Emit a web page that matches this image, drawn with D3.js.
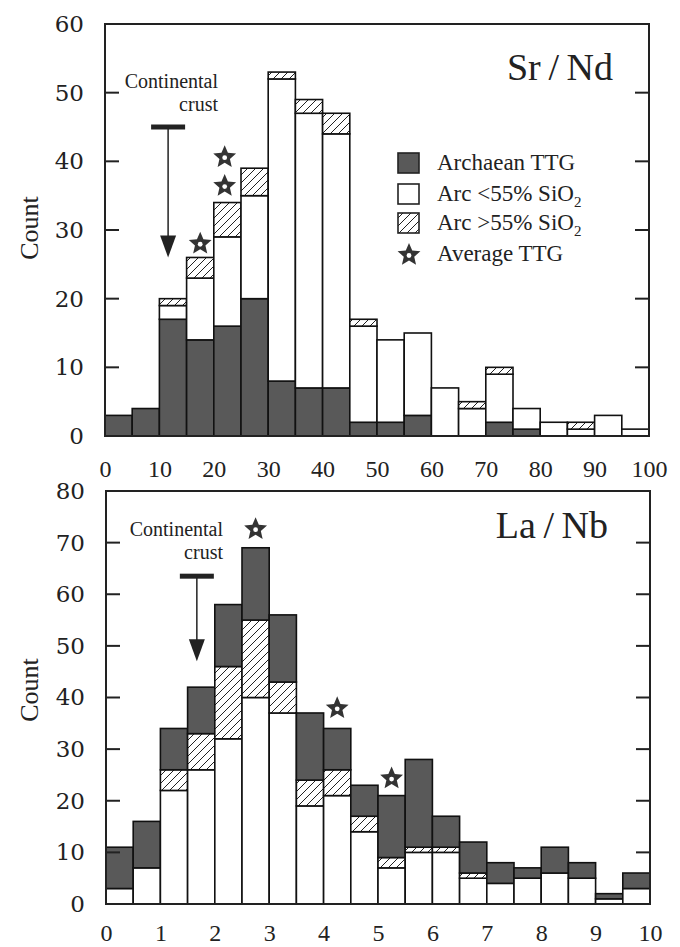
<!DOCTYPE html>
<html><head><meta charset="utf-8">
<script src="https://cdn.jsdelivr.net/npm/d3@7"></script>
<style>body{margin:0;background:#fff}svg{display:block}</style>
</head><body>
<svg id="c" width="680" height="947"></svg>
<script>
// ---------- DATA ----------
// Sr/Nd histogram (bin width 5), counts per component
const srndBins = [0,5,10,15,20,25,30,35,40,45,50,55,60,65,70,75,80,85,90,95];
const srndArchaean = [3,4,17,14,16,20,8,7,7,2,2,3,0,0,2,1,0,0,0,0];
const srndArcLow   = [0,0,2,9,13,15,44,40,37,14,12,12,7,4,7,3,2,1,3,1];
const srndArcHigh  = [0,0,1,3,5,4,1,2,3,1,0,0,0,1,1,0,0,1,0,0];
const srndStarX = [17.5,22,22];
const srndStarY = [28,36.4,40.6];
const srndCrust = {x:11.6, y:45, tip:26};
const srndTicksX = [0,10,20,30,40,50,60,70,80,90,100];
const srndTicksY = [0,10,20,30,40,50,60];

// La/Nb histogram (bin width 0.5)
const lanbBins = [0,0.5,1,1.5,2,2.5,3,3.5,4,4.5,5,5.5,6,6.5,7,7.5,8,8.5,9,9.5];
const lanbArcLow   = [3,7,22,26,32,40,37,19,21,14,7,10,10,5,4,5,6,5,1,3];
const lanbArcHigh  = [0,0,4,7,14,15,6,5,5,3,2,1,1,1,0,0,0,0,0,0];
const lanbArchaean = [8,9,8,9,12,14,13,13,8,6,12,17,6,6,4,2,5,3,1,3];
const lanbStarX = [2.75,4.25,5.25];
const lanbStarY = [72.6,37.9,24.3];
const lanbCrust = {x:1.67, y:63.5, tip:47};
const lanbTicksX = [0,1,2,3,4,5,6,7,8,9,10];
const lanbTicksY = [0,10,20,30,40,50,60,70,80];

const legendLabels = ["Archaean TTG","Arc <55% SiO","Arc >55% SiO","Average TTG"];

// ---------- DRAW ----------
const svg = d3.select("#c");
const defs = svg.append("defs");
const hatch = defs.append("pattern").attr("id","hatch").attr("patternUnits","userSpaceOnUse")
  .attr("width",8).attr("height",8);
hatch.append("rect").attr("width",8).attr("height",8).attr("fill","#fff");
hatch.append("path").attr("d","M0,8 L8,0 M-2,2 L2,-2 M6,10 L10,6")
  .attr("stroke","#222").attr("stroke-width",1);

const ARCH = "#595959";
const fills = {arch:ARCH, low:"#fff", high:"url(#hatch)"};
const serif = "'Liberation Serif', 'Times New Roman', serif";

function starPath(cx, cy, R, r){
  let p = [];
  for(let i=0;i<10;i++){
    const a = -Math.PI/2 + i*Math.PI/5;
    const rr = i%2===0 ? R : r;
    p.push([cx+rr*Math.cos(a), cy+rr*Math.sin(a)]);
  }
  return "M"+p.map(d=>d.join(",")).join("L")+"Z";
}
function drawStar(g, cx, cy){
  g.append("path").attr("d",starPath(cx,cy,12,5.5)).attr("fill","#333");
  g.append("circle").attr("cx",cx).attr("cy",cy+0.5).attr("r",2.4).attr("fill","#fff");
}

function panel(o){
  const x = d3.scaleLinear().domain(o.xDomain).range([o.left,o.right]);
  const y = d3.scaleLinear().domain(o.yDomain).range([o.bottom,o.top]);
  const g = svg.append("g");
  const bw = o.binWidth;
  // stacked bars
  o.bins.forEach((b,i)=>{
    let base = 0;
    o.layers.forEach(L=>{
      const v = L.values[i];
      if(v>0){
        g.append("rect").attr("x",x(b)).attr("width",x(b+bw)-x(b))
          .attr("y",y(base+v)).attr("height",y(base)-y(base+v))
          .attr("fill",fills[L.key]).attr("stroke","#111").attr("stroke-width",1.6);
      }
      base += v;
    });
  });
  // frame
  g.append("rect").attr("x",o.left).attr("y",o.top).attr("width",o.right-o.left)
    .attr("height",o.bottom-o.top).attr("fill","none").attr("stroke","#222").attr("stroke-width",2);
  // y ticks both sides, inward
  const yAxL = d3.axisLeft(y).tickValues(o.yTicks).tickSize(0).tickPadding(21).tickFormat(d3.format("d"));
  const ga = g.append("g").attr("transform",`translate(${o.left},0)`).call(yAxL);
  ga.select(".domain").remove();
  ga.selectAll("text").attr("font-family","'DejaVu Serif', serif").attr("font-size",23).attr("fill","#222");
  o.yTicks.slice(1,-1).forEach(t=>{
    g.append("line").attr("x1",o.left).attr("x2",o.left+14).attr("y1",y(t)).attr("y2",y(t)).attr("stroke","#222").attr("stroke-width",2);
    g.append("line").attr("x1",o.right-14).attr("x2",o.right).attr("y1",y(t)).attr("y2",y(t)).attr("stroke","#222").attr("stroke-width",2);
  });
  // x labels
  const xAx = d3.axisBottom(x).tickValues(o.xTicks).tickSize(0).tickPadding(0).tickFormat(d3.format("d"));
  const gx = g.append("g").attr("transform",`translate(0,${o.xLabelY})`).call(xAx);
  gx.select(".domain").remove();
  gx.selectAll("text").attr("font-family",serif).attr("font-size",24).attr("fill","#222").attr("dy",0).attr("y",0);
  // Count label
  g.append("text").attr("transform",`translate(38,${o.countY}) rotate(-90)`).attr("text-anchor","middle")
    .attr("font-family",serif).attr("font-size",26).attr("fill","#222").text("Count");
  // title
  g.append("text").attr("x",o.titleX).attr("y",o.titleY).attr("text-anchor","end")
    .attr("font-family",serif).attr("font-size",38).attr("fill","#222")
    .text(o.title);
  // continental crust marker (two lines)
  const cx = x(o.crust.x);
  g.append("text").attr("x",o.crustTextX).attr("y",o.crustTextY).attr("text-anchor","end")
    .attr("font-family",serif).attr("font-size",20).attr("fill","#222").text("Continental");
  g.append("text").attr("x",o.crustTextX).attr("y",o.crustTextY+23).attr("text-anchor","end")
    .attr("font-family",serif).attr("font-size",20).attr("fill","#222").text("crust");
  g.append("rect").attr("x",cx-17).attr("y",y(o.crust.y)-2.5).attr("width",34).attr("height",5).attr("fill","#222");
  g.append("line").attr("x1",cx).attr("x2",cx).attr("y1",y(o.crust.y)).attr("y2",y(o.crust.tip)-20)
    .attr("stroke","#222").attr("stroke-width",1.5);
  g.append("path").attr("d",`M${cx-8},${y(o.crust.tip)-22} L${cx+8},${y(o.crust.tip)-22} L${cx},${y(o.crust.tip)} Z`).attr("fill","#222");
  // stars
  o.starX.forEach((sx,i)=>drawStar(g, x(sx), y(o.starY[i])));
  return {x,y,g};
}

panel({
  left:105,right:649,top:24,bottom:436,xDomain:[0,100],yDomain:[0,60],binWidth:5,
  bins:srndBins,
  layers:[{key:"arch",values:srndArchaean},{key:"low",values:srndArcLow},{key:"high",values:srndArcHigh}],
  yTicks:srndTicksY,xTicks:srndTicksX,xLabelY:477,countY:228,
  title:"Sr\u2009/\u2009Nd",titleX:613,titleY:80,
  crust:srndCrust,crustTextX:218,crustTextY:88,
  starX:srndStarX,starY:srndStarY
});
panel({
  left:106,right:650,top:491,bottom:904,xDomain:[0,10],yDomain:[0,80],binWidth:0.5,
  bins:lanbBins,
  layers:[{key:"low",values:lanbArcLow},{key:"high",values:lanbArcHigh},{key:"arch",values:lanbArchaean}],
  yTicks:lanbTicksY,xTicks:lanbTicksX,xLabelY:941,countY:690,
  title:"La\u2009/\u2009Nb",titleX:608,titleY:538,
  crust:lanbCrust,crustTextX:223,crustTextY:536,
  starX:lanbStarX,starY:lanbStarY
});

// legend
const lg = svg.append("g");
const lgKeys = ["arch","low","high"];
const rowTop = [153,184,213];
lgKeys.forEach((k,i)=>{
  lg.append("rect").attr("x",398).attr("y",rowTop[i]).attr("width",21).attr("height",20)
    .attr("fill",fills[k]).attr("stroke","#222").attr("stroke-width",1.6);
});
drawStar(lg, 409, 255);
const baselines = [170,201,230,261];
legendLabels.forEach((t,i)=>{
  const tx = lg.append("text").attr("x",437).attr("y",baselines[i])
    .attr("font-family",serif).attr("font-size",23).attr("fill","#222").text(t);
  if(i===1||i===2){
    tx.append("tspan").attr("font-size",15).attr("dy",6).text("2");
  }
});
</script>
</body></html>
